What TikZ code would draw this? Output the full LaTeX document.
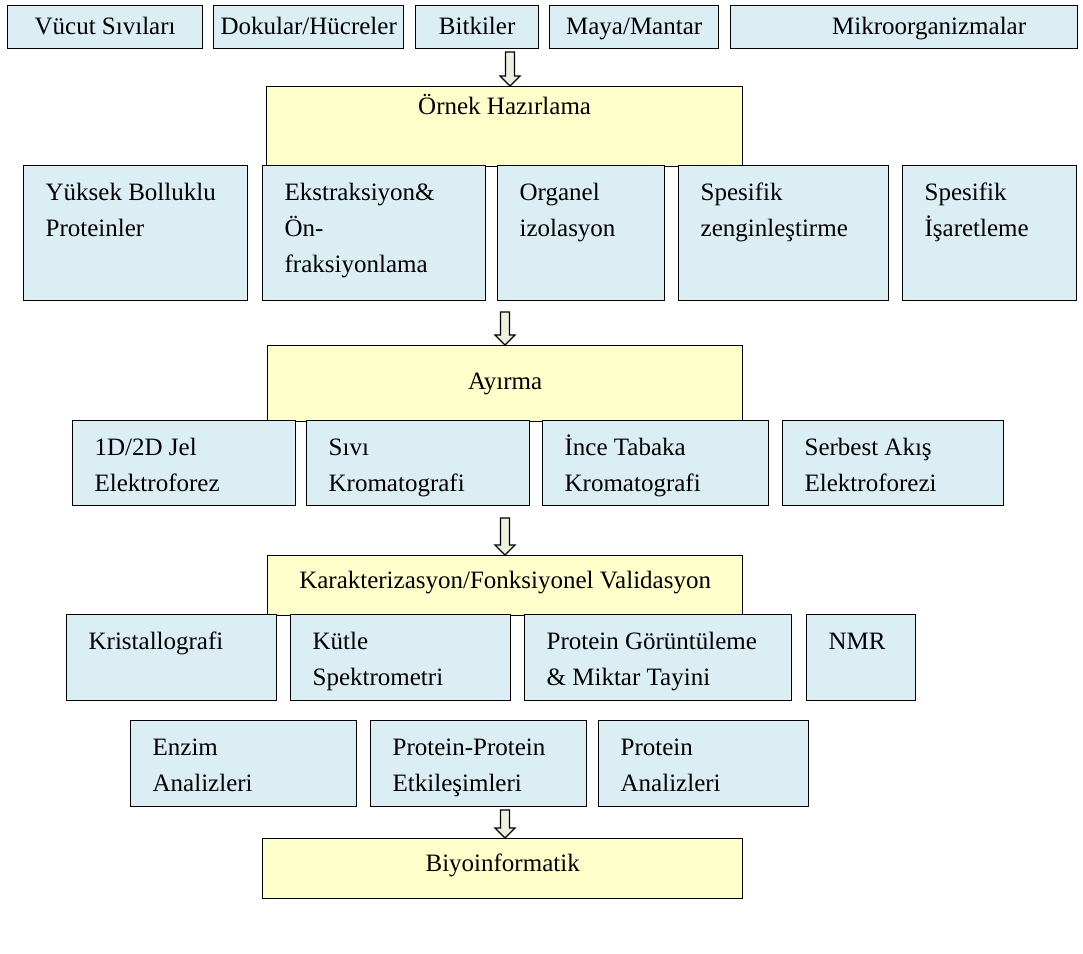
\documentclass[tikz,border=0pt]{standalone}
\usepackage{fontspec}
\setmainfont{Liberation Serif}
\usetikzlibrary{calc}
\definecolor{boxblue}{RGB}{218,238,243}
\definecolor{boxyellow}{RGB}{255,255,204}
\definecolor{arrowfill}{RGB}{235,241,222}
\tikzset{
  bluebox/.style={draw=black, fill=boxblue, line width=1.3pt, inner sep=0pt, anchor=north west},
  yellowbox/.style={draw=black, fill=boxyellow, line width=1.3pt, inner sep=0pt, anchor=north west},
  blockarrow/.style={draw=black, fill=arrowfill, line width=1.2pt, line join=miter},
}
% box with text at the top left: name, style, x, y, width, height, text
\newcommand{\topbox}[7]{%
  \node[#2] (#1) at (#3,#4) {\parbox[c][#6pt][t]{#5pt}{\fontsize{25}{36}\selectfont
    \leftskip=22pt\rightskip=0pt plus 1fil\parindent=0pt
    \vspace*{12pt}\rule{0pt}{23pt}#7\par}};}
% box with one centred line: name, style, x, y, width, height, drop, text
\newcommand{\midbox}[8]{%
  \node[#2] (#1) at (#3,#4) {\parbox[c][#6pt][t]{#5pt}{\fontsize{25}{36}\selectfont
    \centering\vspace*{#7pt}#8\par}};}
% hollow block arrow pointing down: tip coordinate, length
\newcommand{\blockdown}[2]{%
  \draw[blockarrow] ($(#1)+(-4.5,-#2)$) -- ($(#1)+(4.5,-#2)$) -- ($(#1)+(4.5,-10)$)
    -- ($(#1)+(10,-10)$) -- (#1) -- ($(#1)+(-10,-10)$) -- ($(#1)+(-4.5,-10)$) -- cycle;}
\begin{document}
\begin{tikzpicture}[x=1pt, y=-1pt]
\useasboundingbox (0,0) rectangle (1083,953);

% sources
\midbox{vucut}{bluebox}{7}{5}{195}{43}{12}{Vücut Sıvıları}
\midbox{doku}{bluebox}{213}{5}{190}{43}{12}{Dokular/Hücreler}
\midbox{bitki}{bluebox}{415}{5}{123}{43}{12}{Bitkiler}
\midbox{maya}{bluebox}{549}{5}{169}{43}{12}{Maya/Mantar}
\midbox{mikro}{bluebox}{730}{5}{347}{43}{12}{\hspace*{50pt}Mikroorganizmalar}

% sample preparation
\midbox{ornek}{yellowbox}{266}{86}{476}{80}{8}{Örnek Hazırlama}
\topbox{yuksek}{bluebox}{23}{165}{224}{135}{Yüksek Bolluklu Proteinler}
\topbox{ekstr}{bluebox}{262}{165}{223}{135}{Ekstraksiyon\&\\Ön-\\fraksiyonlama}
\topbox{organel}{bluebox}{497}{165}{167}{135}{Organel\\izolasyon}
\topbox{zengin}{bluebox}{678}{165}{210}{135}{Spesifik\\zenginleştirme}
\topbox{isaret}{bluebox}{902}{165}{174}{135}{Spesifik\\İşaretleme}

% separation
\midbox{ayirma}{yellowbox}{267}{345}{475}{76}{27}{Ayırma}
\topbox{jel}{bluebox}{72}{420}{223}{85}{1D/2D Jel\\Elektroforez}
\topbox{sivi}{bluebox}{306}{420}{223}{85}{Sıvı\\Kromatografi}
\topbox{ince}{bluebox}{542}{420}{226}{85}{İnce Tabaka\\Kromatografi}
\topbox{serbest}{bluebox}{782}{420}{221}{85}{Serbest Akış\\Elektroforezi}

% characterisation
\midbox{karakter}{yellowbox}{267}{555}{475}{60}{15}{Karakterizasyon/Fonksiyonel Validasyon}
\topbox{kristal}{bluebox}{66}{614}{210}{86}{Kristallografi}
\topbox{kutle}{bluebox}{290}{614}{220}{86}{Kütle\\Spektrometri}
\topbox{goruntu}{bluebox}{524}{614}{267}{86}{Protein Görüntüleme\\\& Miktar Tayini}
\topbox{nmr}{bluebox}{806}{614}{109}{86}{NMR}
\topbox{enzim}{bluebox}{130}{720}{226}{86}{Enzim\\Analizleri}
\topbox{ppi}{bluebox}{370}{720}{216}{86}{Protein-Protein\\Etkileşimleri}
\topbox{analiz}{bluebox}{598}{720}{210}{86}{Protein\\Analizleri}

% bioinformatics
\midbox{biyo}{yellowbox}{262}{838}{480}{60}{15}{Biyoinformatik}

% flow arrows between the stages
\coordinate (t1) at ($(ornek.north west)+(244,0)$);
\coordinate (t2) at ($(ayirma.north west)+(238,0)$);
\coordinate (t3) at ($(karakter.north west)+(238,0)$);
\coordinate (t4) at ($(biyo.north west)+(243,0)$);
\blockdown{t1}{34}
\blockdown{t2}{33}
\blockdown{t3}{37}
\blockdown{t4}{28}
\end{tikzpicture}
\end{document}
